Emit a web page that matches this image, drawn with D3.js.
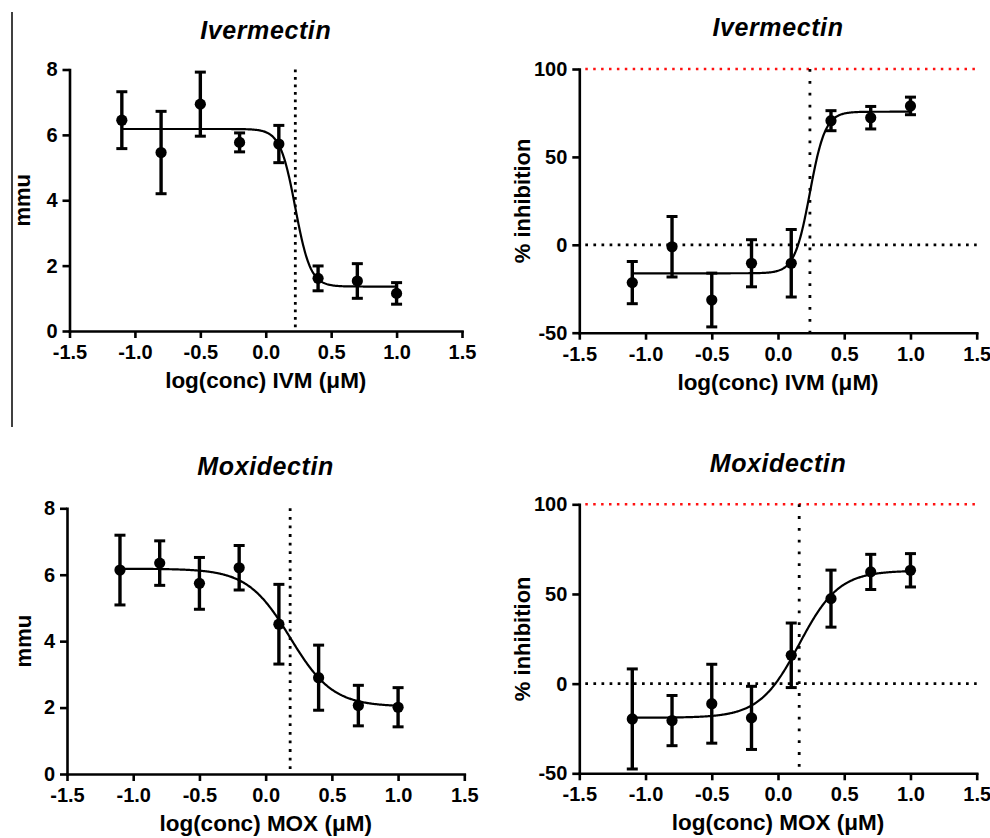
<!DOCTYPE html>
<html>
<head>
<meta charset="utf-8">
<script src="https://cdn.jsdelivr.net/npm/d3@7"></script>
<style>
  body { margin: 0; background: #fff; }
  svg { display: block; }
  text { font-family: "Liberation Sans", Arial, Helvetica, sans-serif; font-weight: bold; fill: #000; }
</style>
</head>
<body>
<svg id="chart" width="990" height="838"></svg>
<script>
// ---------------- DATA ----------------
const logConc = [-1.1, -0.8, -0.5, -0.2, 0.1, 0.4, 0.7, 1.0];
const xTicks = [-1.5, -1.0, -0.5, 0.0, 0.5, 1.0, 1.5];
const mmuTicks = [0, 2, 4, 6, 8];
const inhTicks = [-50, 0, 50, 100];

const ivmMmuMean = [6.45, 5.46, 6.94, 5.77, 5.72, 1.61, 1.53, 1.15];
const ivmMmuErr  = [0.87, 1.26, 0.98, 0.29, 0.57, 0.38, 0.53, 0.33];
const ivmInhMean = [-21.5, -1.1, -31.4, -10.5, -10.5, 70.6, 72.3, 79.0];
const ivmInhErr  = [12.0, 17.2, 15.3, 13.4, 19.2, 5.7, 6.4, 5.0];
const moxMmuMean = [6.14, 6.35, 5.74, 6.21, 4.51, 2.90, 2.06, 2.01];
const moxMmuErr  = [1.05, 0.67, 0.78, 0.67, 1.20, 0.98, 0.61, 0.59];
const moxInhMean = [-19.7, -20.6, -11.2, -19.1, 15.8, 47.4, 62.3, 63.2];
const moxInhErr  = [27.9, 14.0, 22.0, 17.6, 18.0, 15.9, 9.8, 9.3];

// fitted 4-parameter logistic: [bottom, top, logIC50, hillSlope]
const ivmMmuFit = [1.36, 6.18, 0.226, -7.5];
const ivmInhFit = [-16.2, 75.7, 0.241, 7.5];
const moxMmuFit = [2.03, 6.18, 0.185, -2.7];
const moxInhFit = [-19.0, 63.0, 0.16, 2.9];

const titles = ["Ivermectin", "Ivermectin", "Moxidectin", "Moxidectin"];
const xLabels = ["log(conc) IVM (\u03BCM)", "log(conc) IVM (\u03BCM)", "log(conc) MOX (\u03BCM)", "log(conc) MOX (\u03BCM)"];
const yLabels = ["mmu", "% inhibition", "mmu", "% inhibition"];

// ---------------- LAYOUT ----------------
const panels = [
  { mean: ivmMmuMean, err: ivmMmuErr, fit: ivmMmuFit, yDomain: [0, 8], yTicks: mmuTicks, inh: false,
    xr: [69.5, 462], yr: [331, 69.5], titleY: 39, yLabX: 30, vPeriod: 7.5 },
  { mean: ivmInhMean, err: ivmInhErr, fit: ivmInhFit, yDomain: [-50, 100], yTicks: inhTicks, inh: true,
    xr: [579.3, 976.7], yr: [332.7, 69], titleY: 36, yLabX: 530, vPeriod: 11.9 },
  { mean: moxMmuMean, err: moxMmuErr, fit: moxMmuFit, yDomain: [0, 8], yTicks: mmuTicks, inh: false,
    xr: [67, 464.3], yr: [774, 508.3], titleY: 475, yLabX: 31, vPeriod: 8.6 },
  { mean: moxInhMean, err: moxInhErr, fit: moxInhFit, yDomain: [-50, 100], yTicks: inhTicks, inh: true,
    xr: [579.3, 976.7], yr: [773.3, 504.3], titleY: 471.5, yLabX: 530, vPeriod: 11.8 }
];

const svg = d3.select("#chart");

// thin border line at left (from the original figure crop)
svg.append("line").attr("x1", 12).attr("x2", 12).attr("y1", 12).attr("y2", 427)
  .attr("stroke", "#000").attr("stroke-width", 1.5);

const logistic = (p, x) => p[0] + (p[1] - p[0]) / (1 + Math.pow(10, (p[2] - x) * p[3]));

panels.forEach((P, i) => {
  const x = d3.scaleLinear().domain([-1.5, 1.5]).range(P.xr);
  const y = d3.scaleLinear().domain(P.yDomain).range(P.yr);
  const g = svg.append("g");
  const cx = (P.xr[0] + P.xr[1]) / 2;

  // title
  g.append("text").attr("x", cx).attr("y", P.titleY).attr("text-anchor", "middle")
    .style("font-size", "25px").style("font-style", "italic").style("letter-spacing", "0.6px")
    .text(titles[i]);

  // reference dotted lines
  if (P.inh) {
    g.append("line").attr("x1", x(-1.5) + 6).attr("x2", x(1.5)).attr("y1", y(100)).attr("y2", y(100))
      .attr("stroke", "#ff1010").attr("stroke-width", 2.5).attr("stroke-dasharray", "2.5,5.4");
    g.append("line").attr("x1", x(-1.5) + 6).attr("x2", x(1.5)).attr("y1", y(0)).attr("y2", y(0))
      .attr("stroke", "#000").attr("stroke-width", 2.7).attr("stroke-dasharray", "2.7,5.4");
  }
  g.append("line").attr("x1", x(P.fit[2])).attr("x2", x(P.fit[2]))
    .attr("y1", y(P.yDomain[1])).attr("y2", y(P.yDomain[0]))
    .attr("stroke", "#000").attr("stroke-width", 2.8)
    .attr("stroke-dasharray", `2.8,${(P.vPeriod - 2.8).toFixed(2)}`);

  // axes
  const xAxis = d3.axisBottom(x).tickValues(xTicks).tickSize(7).tickSizeOuter(0).tickPadding(7)
    .tickFormat(d => d.toFixed(1));
  const yAxis = d3.axisLeft(y).tickValues(P.yTicks).tickSize(7).tickSizeOuter(0).tickPadding(5)
    .tickFormat(d => String(d));

  const gx = g.append("g").attr("transform", `translate(0,${P.yr[0]})`).call(xAxis);
  const gy = g.append("g").attr("transform", `translate(${P.xr[0]},0)`).call(yAxis);
  [gx, gy].forEach(a => {
    a.select(".domain").attr("stroke", "#000").attr("stroke-width", 2.6).attr("stroke-linecap", "square");
    a.selectAll(".tick line").attr("stroke", "#000").attr("stroke-width", 2.6);
    a.selectAll(".tick text").attr("fill", "#000")
      .style("font-size", "20px").style("font-weight", "bold")
      .style("font-family", "\"Liberation Sans\", Arial, sans-serif");
  });

  // axis labels
  g.append("text").attr("x", cx).attr("y", P.yr[0] + 57).attr("text-anchor", "middle")
    .style("font-size", "22.5px").text(xLabels[i]);
  g.append("text").attr("transform", `translate(${P.yLabX},${(P.yr[0] + P.yr[1]) / 2}) rotate(-90)`)
    .attr("text-anchor", "middle").style("font-size", "22px").text(yLabels[i]);

  // fitted curve
  const xs = d3.range(logConc[0], logConc[logConc.length - 1] + 1e-9, 0.005);
  const line = d3.line().x(d => x(d)).y(d => y(logistic(P.fit, d)));
  g.append("path").datum(xs).attr("d", line).attr("fill", "none")
    .attr("stroke", "#000").attr("stroke-width", 2.2);

  // error bars
  const pts = logConc.map((c, k) => ({ c, m: P.mean[k], e: P.err[k] }));
  const eb = g.append("g").attr("stroke", "#000");
  eb.selectAll("line.v").data(pts).join("line").attr("class", "v")
    .attr("x1", d => x(d.c)).attr("x2", d => x(d.c))
    .attr("y1", d => y(d.m + d.e)).attr("y2", d => y(d.m - d.e)).attr("stroke-width", 3.4);
  eb.selectAll("line.t").data(pts).join("line").attr("class", "t")
    .attr("x1", d => x(d.c) - 5.5).attr("x2", d => x(d.c) + 5.5)
    .attr("y1", d => y(d.m + d.e)).attr("y2", d => y(d.m + d.e)).attr("stroke-width", 3);
  eb.selectAll("line.b").data(pts).join("line").attr("class", "b")
    .attr("x1", d => x(d.c) - 5.5).attr("x2", d => x(d.c) + 5.5)
    .attr("y1", d => y(d.m - d.e)).attr("y2", d => y(d.m - d.e)).attr("stroke-width", 3);

  // points
  g.selectAll("circle").data(pts).join("circle")
    .attr("cx", d => x(d.c)).attr("cy", d => y(d.m)).attr("r", 5.6).attr("fill", "#000");
});
</script>
</body>
</html>
